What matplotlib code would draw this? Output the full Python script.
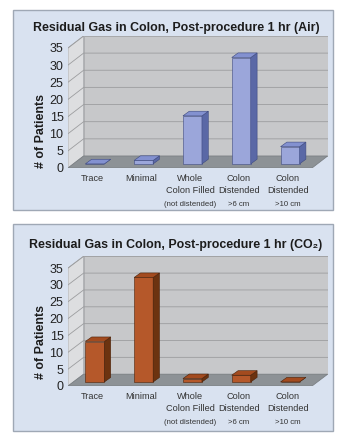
import matplotlib.pyplot as plt
from matplotlib.patches import Polygon, Rectangle

plt.rcParams['font.family'] = ['Liberation Sans', 'DejaVu Sans']

# data
categories = ["Trace", "Minimal", "Whole\nColon Filled", "Colon\nDistended", "Colon\nDistended"]
sub_labels = ["", "", "(not distended)", ">6 cm", ">10 cm"]
air_patients = [0, 1, 14, 31, 5]
co2_patients = [12, 31, 1, 2, 0]
y_ticks = [0, 5, 10, 15, 20, 25, 30, 35]

W, H = 350, 443
fig = plt.figure(figsize=(W / 100, H / 100), dpi=100)

# fake 3D geometry (data units)
DX, DY = 0.32, 3.5          # depth of the box
BASE_X, BASE_Y = 0.05, 1.2  # bar front plane offset from box front
BAR_DX, BAR_DY = 0.13, 1.35 # depth of a bar
BW = 0.39                   # bar width
YMAX = 35
N = len(categories)


def fig_box(x0, y0, x1, y1):
    # pixel box (top-left origin) -> figure fraction [l, b, w, h]
    return [x0 / W, 1 - y1 / H, (x1 - x0) / W, (y1 - y0) / H]


def draw_panel(panel_px, front_bottom, px_per_unit, values, colors, title, title_y, ylab_y):
    face, top, side, edge = colors
    l, b, w, h = fig_box(*panel_px)
    fig.add_artist(Rectangle((l, b), w, h, transform=fig.transFigure,
                             facecolor='#d9e2f0', edgecolor='#9fa8b5', lw=1.0, zorder=0))

    x_scale = 48.8
    ax_h = (YMAX + DY) * px_per_unit
    ax = fig.add_axes(fig_box(68, front_bottom - ax_h, 68 + (N + DX) * x_scale, front_bottom))
    ax.set_xlim(0, N + DX)
    ax.set_ylim(0, YMAX + DY)
    ax.patch.set_alpha(0)
    for s in ax.spines.values():
        s.set_visible(False)

    # walls and floor
    ax.add_patch(Polygon([(DX, DY), (N + DX, DY), (N + DX, YMAX + DY), (DX, YMAX + DY)],
                         fc='#c7c8ca', ec='#a9aaac', lw=0.6, zorder=1))
    ax.add_patch(Polygon([(0, 0), (DX, DY), (DX, YMAX + DY), (0, YMAX)],
                         fc='#dddee0', ec='#a9aaac', lw=0.6, zorder=1))
    for v in y_ticks[1:]:
        ax.plot([0, DX, N + DX], [v, v + DY, v + DY], color='#9c9d9f', lw=0.6, zorder=2)
    ax.add_patch(Polygon([(0, 0), (N, 0), (N + DX, DY), (DX, DY)],
                         fc='#8d9296', ec='#7b8084', lw=0.6, zorder=3))

    # bars
    for i, v in enumerate(values):
        xl = i + 0.5 + BASE_X - BW / 2
        y0 = BASE_Y
        ax.add_patch(Polygon([(xl, y0), (xl + BW, y0), (xl + BW, y0 + v), (xl, y0 + v)],
                             fc=face, ec=edge, lw=0.4, zorder=4))
        ax.add_patch(Polygon([(xl + BW, y0), (xl + BW + BAR_DX, y0 + BAR_DY),
                              (xl + BW + BAR_DX, y0 + v + BAR_DY), (xl + BW, y0 + v)],
                             fc=side, ec=edge, lw=0.4, zorder=4))
        ax.add_patch(Polygon([(xl, y0 + v), (xl + BW, y0 + v),
                              (xl + BW + BAR_DX, y0 + v + BAR_DY), (xl + BAR_DX, y0 + v + BAR_DY)],
                             fc=top, ec=edge, lw=0.4, zorder=4))

    ax.set_yticks(y_ticks)
    ax.tick_params(axis='y', length=0, pad=3.2, labelsize=9, labelcolor='#222222')
    ax.set_xticks([i + 0.5 for i in range(N)])
    ax.set_xticklabels(categories, fontsize=6.6, linespacing=1.45, color='#333333')
    ax.tick_params(axis='x', length=0, pad=4.5)
    for i, s in enumerate(sub_labels):
        if s:
            ax.annotate(s, xy=(i + 0.5, 0), xycoords=('data', 'axes fraction'),
                        xytext=(0, -26), textcoords='offset points',
                        ha='center', va='center', fontsize=5.6, color='#333333')

    fig.text(176 / W, 1 - title_y / H, title, ha='center', va='center',
             fontsize=8.9, fontweight='bold', color='#1c1c1c')
    fig.text(41 / W, 1 - ylab_y / H, '# of Patients', rotation=90, ha='center', va='center',
             fontsize=8.9, fontweight='bold', color='#1c1c1c')


draw_panel((13, 10, 333, 210), 168, 3.43, air_patients,
           ('#9ba6da', '#8391d0', '#5a68a6', '#3e4a80'),
           'Residual Gas in Colon, Post-procedure 1 hr (Air)', 28, 131)
draw_panel((13, 224, 333, 431), 386, 3.37, co2_patients,
           ('#b5582a', '#a34b1f', '#6c3310', '#4a220a'),
           'Residual Gas in Colon, Post-procedure 1 hr (CO\u2082)', 245, 342)

plt.savefig('out.png', dpi=100)
